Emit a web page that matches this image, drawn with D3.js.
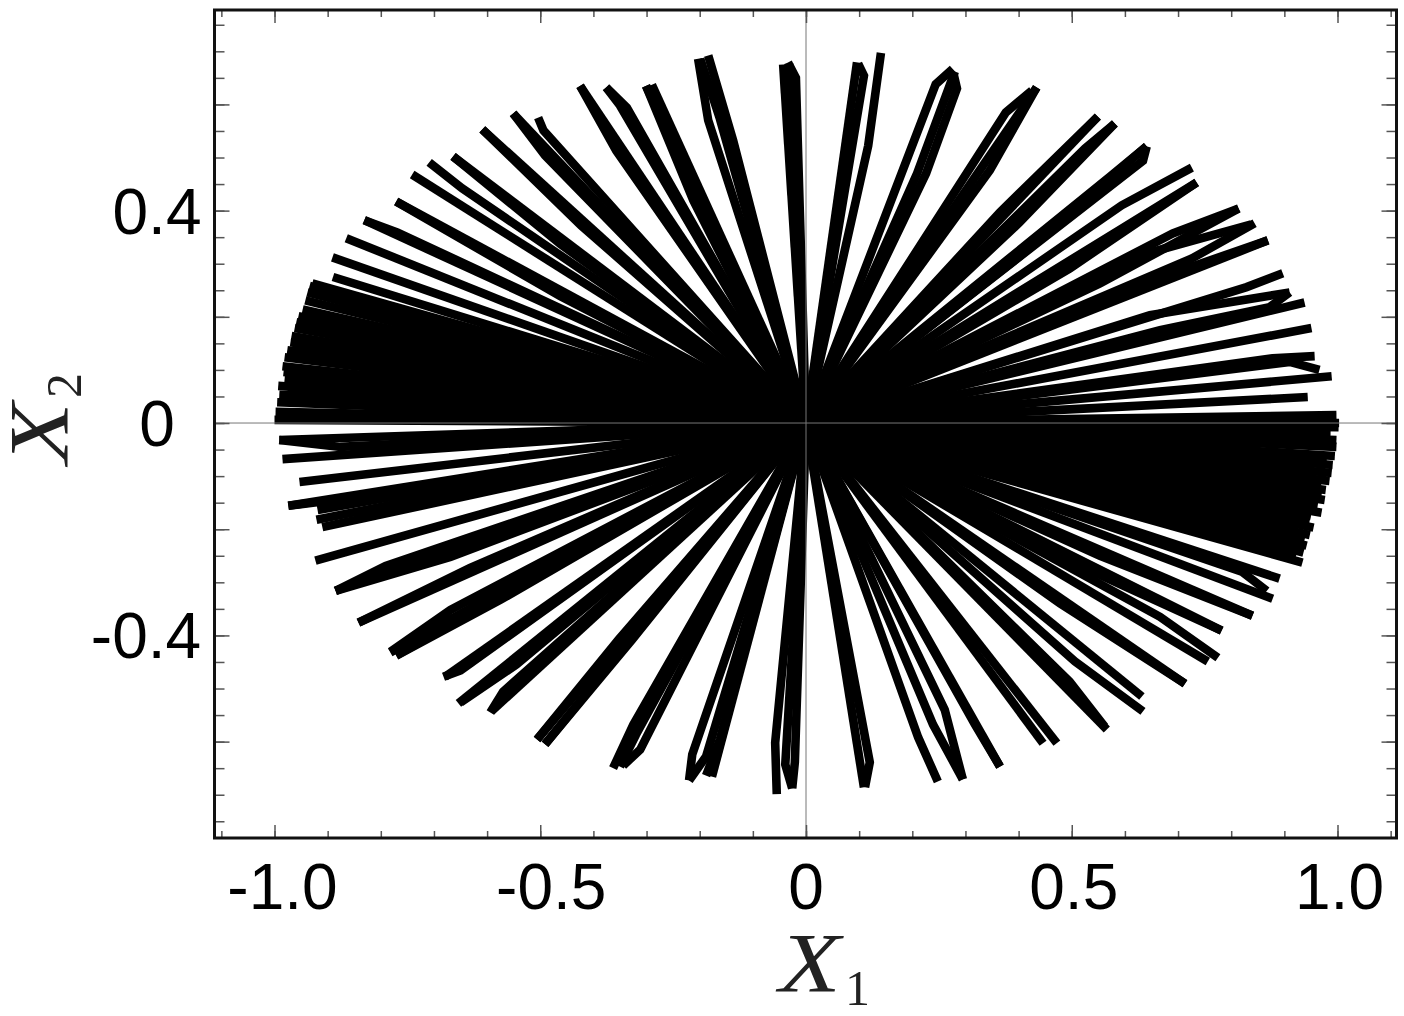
<!DOCTYPE html>
<html>
<head>
<meta charset="utf-8">
<script src="https://cdnjs.cloudflare.com/ajax/libs/d3/7.8.5/d3.min.js"></script>
<style>html,body{margin:0;padding:0;background:#fff}svg{display:block}</style>
</head>
<body>
<svg id="c" width="1404" height="1016"></svg>
<script>
// Each ray starts at the origin and runs through these vertices (data units).
const upperLeftRays = [
 [[-.890,.275]],[[-.891,.312]],[[-.865,.348]],[[-.831,.382]],[[-.769,.359],[-.831,.382]],
 [[-.771,.417]],[[-.462,.239],[-.771,.417]],[[-.741,.468]],[[-.647,.442],[-.709,.491]],[[-.664,.502]],
 [[-.462,.337],[-.664,.502]],[[-.609,.553]],[[-.423,.372],[-.609,.553]],
 [[-.551,.583]],[[-.491,.504],[-.551,.583]],[[-.494,.551],[-.504,.575]],[[-.425,.635]],[[-.357,.513],[-.425,.635]],
 [[-.337,.594],[-.376,.632]],[[-.350,.598],[-.376,.632]],[[-.301,.635]],[[-.212,.419],[-.301,.635]],[[-.290,.637]],
 [[-.184,.570],[-.203,.686]],[[-.137,.532],[-.184,.692]],[[-.162,.573],[-.199,.686]],
 [[-.043,.675]],[[-.032,.677]],[[-.019,.650],[-.034,.679]]
];
const upperRightRays = [
 [[.096,.679]],[[.117,.522],[.141,.697]],[[.109,.654],[.098,.677]],[[.244,.638],[.276,.667]],
 [[.209,.470],[.280,.662]],[[.226,.470],[.284,.630],[.278,.656]],
 [[.434,.632]],[[.346,.476],[.434,.632]],[[.376,.585],[.425,.626]],[[.549,.577]],[[.365,.397],[.549,.577]],
 [[.525,.517],[.581,.564]],[[.402,.378],[.581,.564]],[[.634,.494],[.641,.521]],[[.572,.464],[.641,.521]],[[.402,.314],[.641,.521]],
 [[.594,.410],[.726,.481]],[[.600,.370],[.735,.453]],[[.496,.291],[.735,.453]],[[.690,.357],[.814,.404]],[[.553,.263],[.814,.404]],
 [[.647,.321],[.838,.374]],[[.726,.310],[.844,.376]],[[.869,.344]],[[.647,.267],[.869,.344]],[[.829,.256],[.897,.282]],
 [[.647,.203],[.910,.246]],[[.666,.175],[.872,.218],[.910,.246]],[[.938,.227]],[[.951,.179]],
 [[.878,.122],[.957,.126]],[[.910,.115],[.966,.100]],[[.989,.088]],[[.944,.049]],[[.998,.015]],[[1.003,0]]
];
const lowerRightFan = [
 [[1.002,-.008]],[[.987,-.017]],[[.998,-.032]],[[.998,-.045]],[[.995,-.062]],[[.980,-.066]],
 [[.991,-.079]],[[.989,-.094]],[[.985,-.109]],[[.970,-.111]],[[.978,-.126]],[[.970,-.136]],[[.976,-.145]],
 [[.963,-.154]],[[.970,-.169]],[[.950,-.175]],[[.948,-.182]],[[.955,-.197]],[[.948,-.211]],[[.938,-.220]],
 [[.942,-.231]],[[.936,-.244]],[[.921,-.254]],[[.934,-.263]]
];
const lowerRightRays = [
 [[.891,-.293]],[[.820,-.280],[.867,-.316]],[[.878,-.331]],[[.840,-.363]],[[.553,-.250],[.840,-.363]],[[.782,-.391]],[[.459,-.243],[.782,-.391]],
 [[.666,-.365],[.775,-.442]],[[.756,-.449]],[[.713,-.491]],[[.478,-.340],[.713,-.491]],[[.632,-.515]],[[.506,-.449],[.634,-.543]],
 [[.566,-.577]],[[.496,-.487],[.562,-.572]],[[.472,-.603]],[[.446,-.603]],[[.365,-.647]],
 [[.318,-.568],[.365,-.647]],[[.261,-.540],[.295,-.671]],[[.239,-.568],[.295,-.671]],
 [[.211,-.592],[.248,-.675]],[[.109,-.686]],[[.120,-.639],[.111,-.686]]
];
const lowerLeftRays = [
 [[-.021,-.639],[-.026,-.688]],[[-.039,-.643],[-.026,-.688]],[[-.058,-.602],[-.055,-.699]],
 [[-.177,-.666]],[[-.162,-.596],[-.188,-.664]],[[-.188,-.628],[-.220,-.673]],[[-.214,-.624],[-.220,-.673]],
 [[-.312,-.615],[-.344,-.645]],[[-.325,-.568],[-.363,-.650]],[[-.320,-.587],[-.350,-.647]],
 [[-.491,-.605]],[[-.506,-.596]],[[-.353,-.408],[-.506,-.596]],[[-.327,-.408],[-.491,-.605]],
 [[-.570,-.506],[-.594,-.545]],[[-.592,-.543]],[[-.654,-.528]],
 [[-.545,-.455],[-.650,-.526]],[[-.679,-.478]],[[-.650,-.466],[-.682,-.478]],[[-.782,-.432]],
 [[-.771,-.438]],[[-.575,-.333],[-.771,-.438]],[[-.669,-.352],[-.782,-.431]],[[-.842,-.376]],[[-.632,-.273],[-.842,-.376]],
 [[-.885,-.316]],[[-.791,-.269],[-.885,-.316]],[[-.669,-.252],[-.885,-.316]],[[-.923,-.259]],[[-.910,-.196]],[[-.919,-.164]],
 [[-.921,-.182]],[[-.974,-.156]],[[-.575,-.105],[-.974,-.156]],[[-.953,-.111]],[[-.985,-.068]],[[-.991,-.032]],[[-.876,-.045],[-.991,-.032]]
];
const upperLeftFan = [
 [[-1.0,.006]],[[-.998,.021]],[[-.995,.039]],[[-.991,.053]],[[-.975,.062]],[[-.993,.070]],[[-.981,.083]],
 [[-.983,.096]],[[-.985,.107]],[[-.981,.124]],[[-.976,.137]],[[-.965,.150]],[[-.970,.152]],[[-.968,.164]],
 [[-.962,.179]],[[-.959,.190]],[[-.955,.201]],[[-.947,.214]],[[-.942,.231]],[[-.938,.246]],
 [[-.934,.258]],[[-.929,.263]]
];
const allRays = [...upperLeftRays,...upperRightRays,...lowerRightFan,...lowerRightRays,...lowerLeftRays,...upperLeftFan];

const xDomain = [-1.1129, 1.1110];
const yDomain = [-.7815, .7778];
const xMinor = d3.range(-11,12).map(i=>i/10);
const xMajor = [-1,-.5,0,.5,1];
const xLabels = ["-1.0","-0.5","0","0.5","1.0"];
const yMinor = d3.range(-15,16).map(i=>i/20);
const yMajor = [-.6,-.4,-.2,0,.2,.4,.6];
const yLabelValues = [-.4,0,.4];
const yLabels = ["-0.4","0","0.4"];

const L=214.5,R=1396.5,T=10,B=838;
const x=d3.scaleLinear().domain(xDomain).range([L,R]);
const y=d3.scaleLinear().domain(yDomain).range([B,T]);
const svg=d3.select("#c");
const SANS='"Liberation Sans",Arial,sans-serif', SERIF='"Liberation Serif",serif';

const line=d3.line().x(d=>x(d[0])).y(d=>y(d[1]));
svg.append("g").selectAll("path").data(allRays).join("path")
 .attr("d",r=>line([[0,0],...r]))
 .attr("fill","none").attr("stroke","#000").attr("stroke-width",8.6)
 .attr("stroke-linecap","butt").attr("stroke-linejoin","miter").attr("stroke-miterlimit",4);

// zero lines over the ink
svg.append("line").attr("x1",L).attr("x2",R).attr("y1",y(0)).attr("y2",y(0)).attr("stroke","#777").attr("stroke-width",1);
svg.append("line").attr("x1",x(0)).attr("x2",x(0)).attr("y1",T).attr("y2",B).attr("stroke","#777").attr("stroke-width",1);

function ticks(axis,scale,vals,len,tr){
 const g=svg.append("g").attr("transform",tr).call(axis(scale).tickValues(vals).tickSize(len).tickFormat("").tickSizeOuter(0));
 g.select(".domain").remove();
 g.selectAll("line").attr("stroke","#555").attr("stroke-width",1.5);
}
ticks(d3.axisBottom,x,xMinor,-7,`translate(0,${B})`);
ticks(d3.axisBottom,x,xMajor,-13,`translate(0,${B})`);
ticks(d3.axisTop,x,xMinor,-7,`translate(0,${T})`);
ticks(d3.axisTop,x,xMajor,-13,`translate(0,${T})`);
ticks(d3.axisLeft,y,yMinor,-10,`translate(${L},0)`);
ticks(d3.axisLeft,y,yMajor,-15,`translate(${L},0)`);
ticks(d3.axisRight,y,yMinor,-10,`translate(${R},0)`);
ticks(d3.axisRight,y,yMajor,-15,`translate(${R},0)`);

svg.append("rect").attr("x",L).attr("y",T).attr("width",R-L).attr("height",B-T)
 .attr("fill","none").attr("stroke","#111").attr("stroke-width",3);

const xShift=[8,11,0,2,2];
svg.append("g").selectAll("text").data(xMajor).join("text")
 .attr("x",(d,i)=>x(d)+xShift[i]).attr("y",909).attr("text-anchor","middle")
 .attr("font-family",SANS).attr("font-size",64).attr("fill","#000").text((d,i)=>xLabels[i]);
const yShift=[-11,0,0];
svg.append("g").selectAll("text").data(yLabelValues).join("text")
 .attr("x",(d,i)=>157+yShift[i]).attr("y",d=>y(d)+23).attr("text-anchor","middle")
 .attr("font-family",SANS).attr("font-size",64).attr("fill","#000").text((d,i)=>yLabels[i]);

function title(tr,sub,subX){
 const g=svg.append("g").attr("transform",tr).attr("fill","#222");
 g.append("text").attr("transform","scale(1.2,1)").attr("font-family",SERIF).attr("font-style","italic").attr("font-size",84).text("X");
 g.append("text").attr("x",subX).attr("y",13).attr("font-family",SERIF).attr("font-size",50).text(sub);
}
title("translate(779,992)","1",66);
title("translate(68,464) rotate(-90)","2",66);
</script>
</body>
</html>
